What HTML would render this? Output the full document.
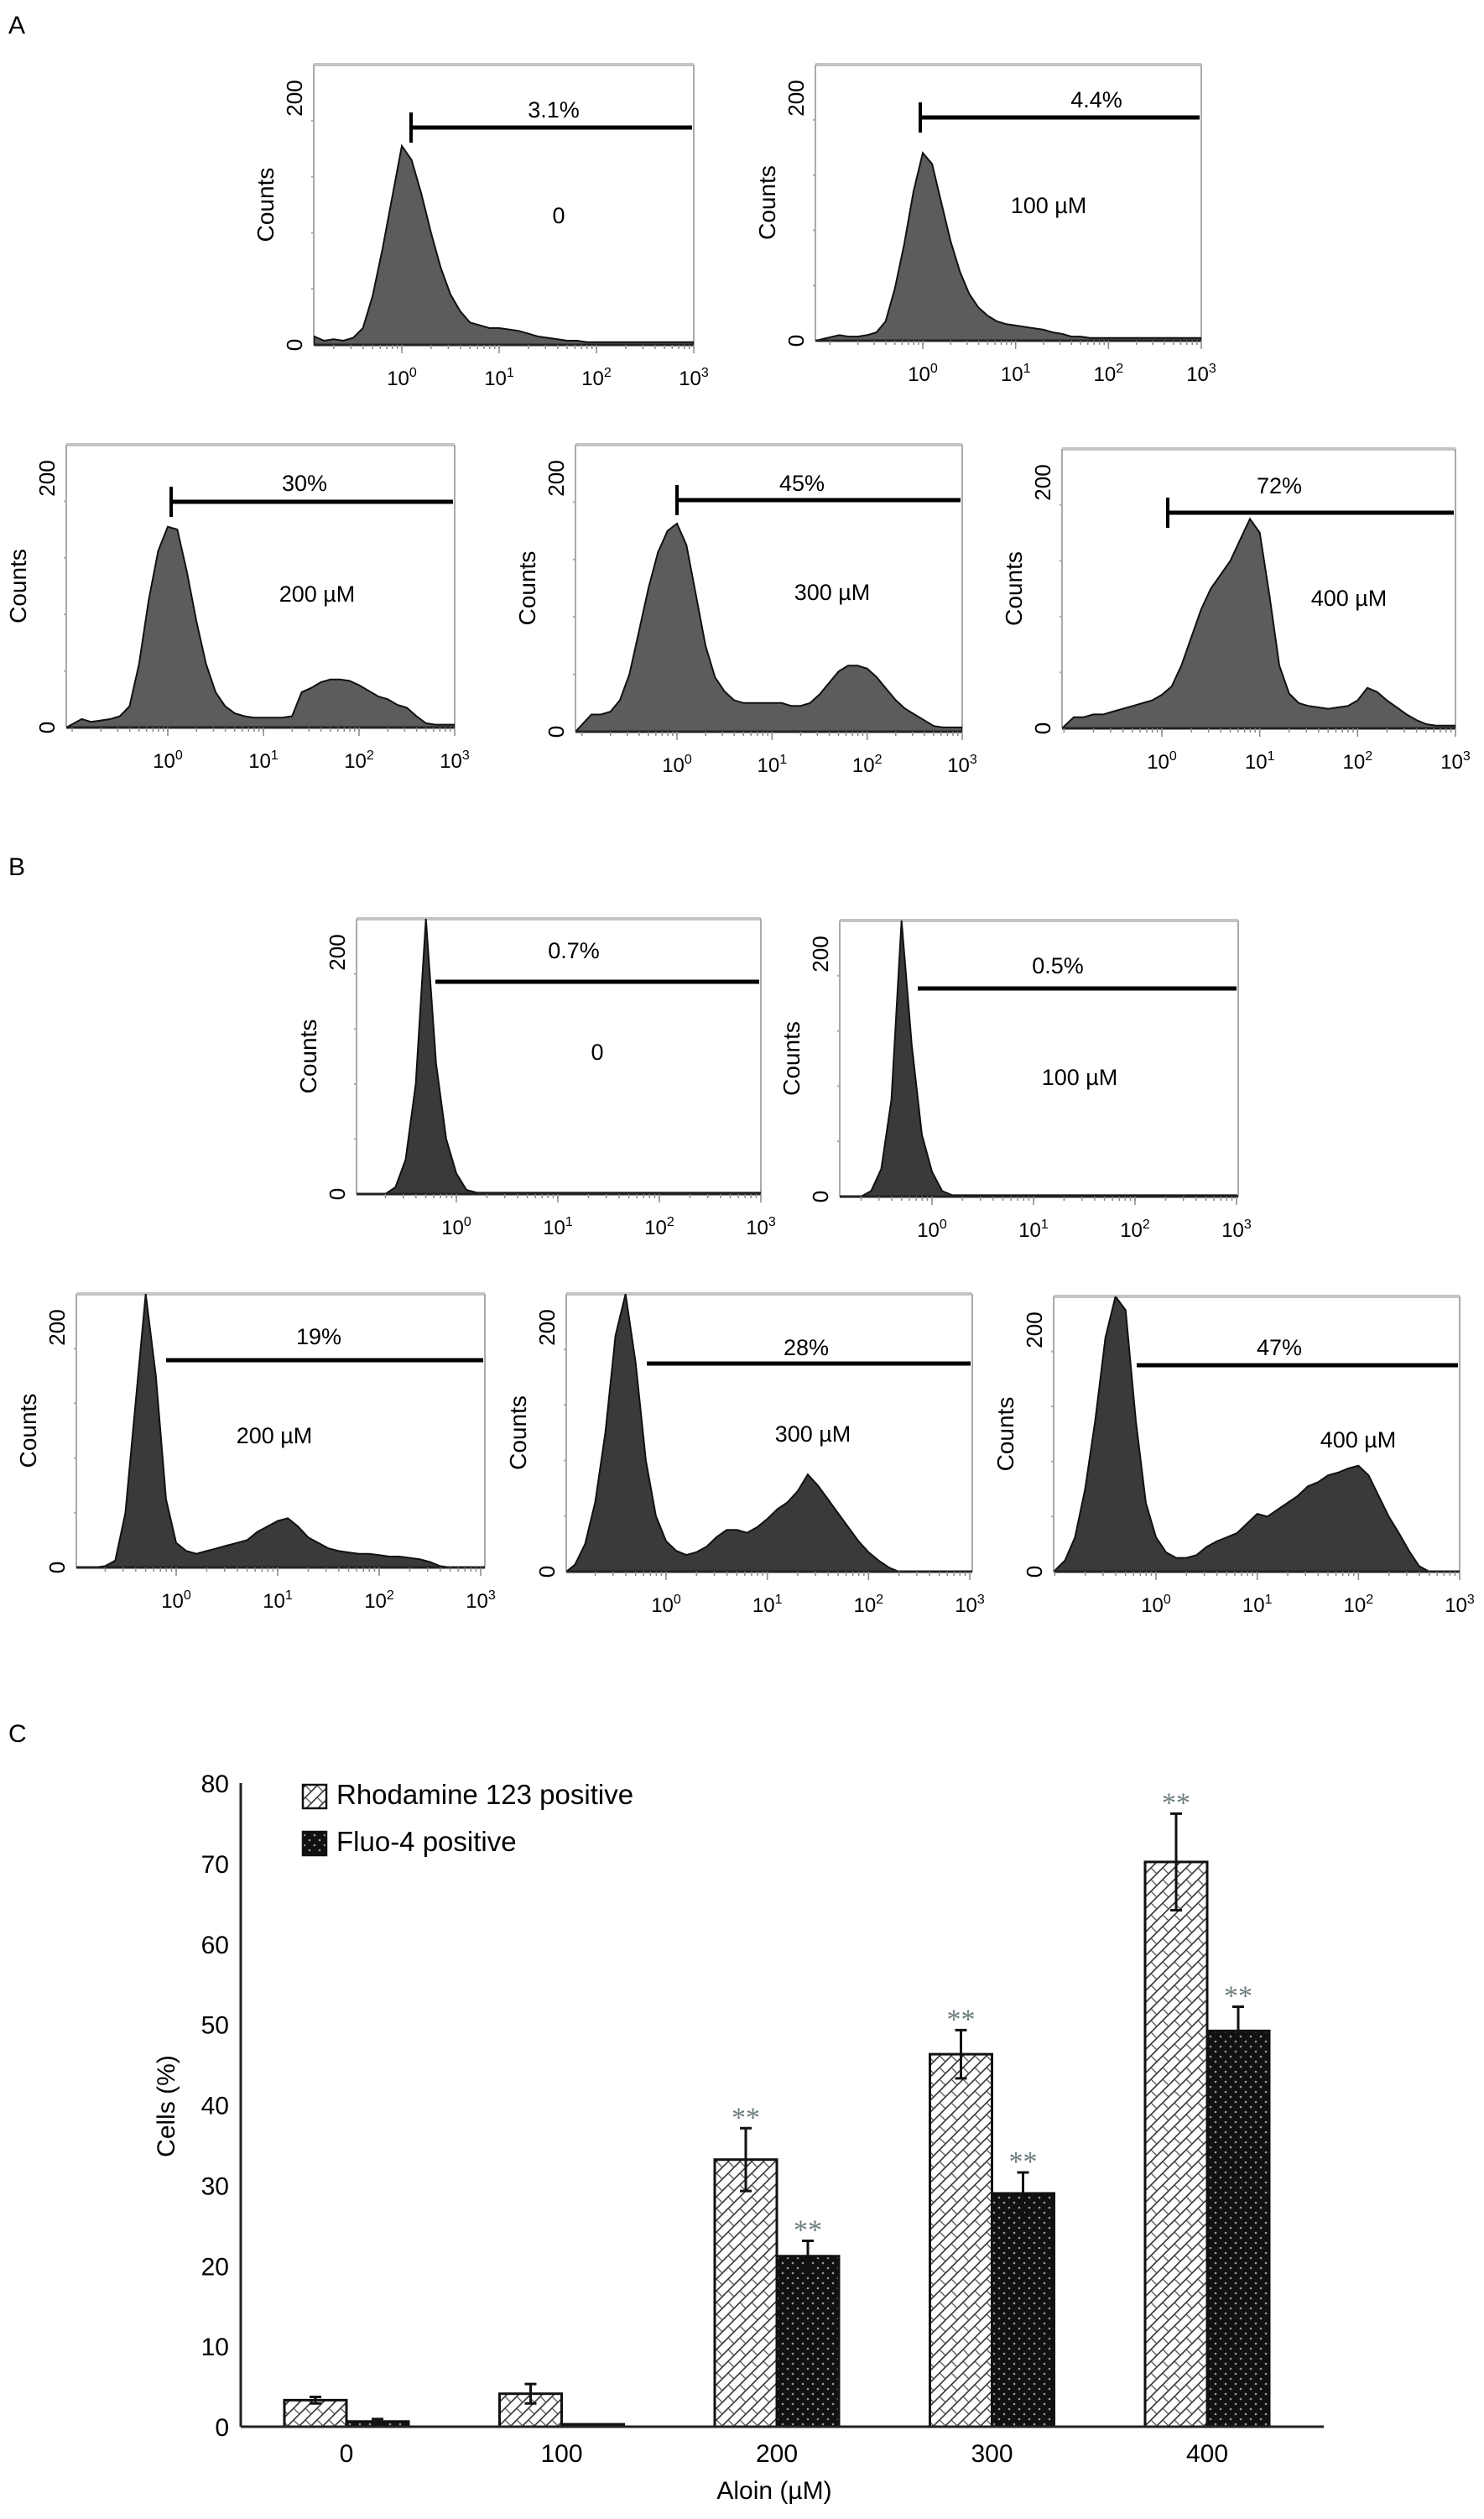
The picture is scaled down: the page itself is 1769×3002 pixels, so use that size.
<!DOCTYPE html>
<html><head><meta charset="utf-8">
<style>
html,body{margin:0;padding:0;background:#fff;}
svg{display:block;font-family:"Liberation Sans",sans-serif;}
</style></head>
<body>
<svg id="fig" width="1769" height="3002" viewBox="0 0 1769 3002" xmlns="http://www.w3.org/2000/svg">
<defs>
<pattern id="hatchR" patternUnits="userSpaceOnUse" width="14" height="14">
<rect width="14" height="14" fill="#fff"/>
<path d="M0,14 L14,0 M-3,3 L3,-3 M11,17 L17,11" stroke="#333" stroke-width="1.6"/>
<path d="M0,0 L7,7" stroke="#555" stroke-width="1.3"/>
</pattern>
<pattern id="dotF" patternUnits="userSpaceOnUse" width="12" height="12">
<rect width="12" height="12" fill="#111"/>
<circle cx="3" cy="3" r="1.3" fill="#999"/>
<circle cx="9" cy="9" r="1.3" fill="#999"/>
</pattern>
</defs>
<text x="10" y="40" font-size="30">A</text>
<text x="10" y="1043" font-size="30">B</text>
<text x="10" y="2076" font-size="30">C</text>
<g id="hists"></g>
<g id="bars"></g>
</svg>
<script>
// ---------- Histogram data ----------
const bins = [-0.9,-0.8,-0.7,-0.6,-0.5,-0.4,-0.3,-0.2,-0.1,0,0.1,0.2,0.3,0.4,0.5,0.6,0.7,0.8,0.9,1,1.1,1.2,1.3,1.4,1.5,1.6,1.7,1.8,1.9,2,2.1,2.2,2.3,2.4,2.5,2.6,2.7,2.8,2.9,3.0];
const countsA0 = [6,3,4,3,5,12,35,68,105,142,132,108,80,55,36,24,16,14,12,12,11,10,8,6,5,4,3,3,2,2,2,2,2,2,2,2,2,2,2,2];
const countsA100 = [4,3,3,4,6,14,38,70,108,136,128,100,72,50,34,24,18,14,12,11,10,9,8,6,5,3,3,2,2,2,2,2,2,2,2,2,2,2,2,2];
const countsA200 = [6,4,5,6,8,15,45,90,125,142,140,110,75,45,25,15,10,8,7,7,7,7,8,25,28,32,34,34,33,30,26,22,20,16,14,8,3,2,2,2];
const countsA300 = [12,12,14,22,40,70,100,125,140,145,130,95,60,38,28,22,20,20,20,20,20,18,18,20,26,34,42,46,46,44,38,30,22,16,12,8,4,3,3,3];
const countsA400 = [8,8,10,10,12,14,16,18,20,24,30,45,65,85,100,110,120,135,150,140,95,45,25,18,16,15,14,15,16,20,29,26,20,15,10,6,3,2,2,2];
const countsB0 = [0,0,0,5,25,80,200,95,40,15,3,1,1,1,1,1,1,1,1,1,1,1,1,1,1,1,1,1,1,1,1,1,1,1,1,1,1,1,1,1];
const countsB100 = [0,0,0,4,20,70,200,110,45,18,4,1,1,1,1,1,1,1,1,1,1,1,1,1,1,1,1,1,1,1,1,1,1,1,1,1,1,1,1,1];
const countsB200 = [0,0,1,5,40,120,200,140,50,18,12,10,12,14,16,18,20,26,30,34,36,30,22,18,14,12,11,10,10,9,8,8,7,6,4,1,0,0,0,0];
const countsB300 = [5,20,50,100,170,200,150,80,40,22,15,12,14,18,25,30,30,28,32,38,45,50,58,70,62,52,42,32,22,14,8,3,0,0,0,0,0,0,0,0];
const countsB400 = [8,25,60,110,170,200,190,110,50,25,14,10,10,12,18,22,25,28,35,42,40,45,50,55,62,65,70,72,75,77,70,55,40,28,15,4,0,0,0,0];
const gateLabels = ["3.1%","4.4%","30%","45%","72%","0.7%","0.5%","19%","28%","47%"];
const doseLabels = ["0","100 \u00b5M","200 \u00b5M","300 \u00b5M","400 \u00b5M","0","100 \u00b5M","200 \u00b5M","300 \u00b5M","400 \u00b5M"];
const decadeLabels = ["0","1","2","3"];

// layout (pixels) per panel
const panels = [
 {id:"a-0",   c:countsA0,   L:374, R:827, T:77,  B:411, x0:479, x3:827, gy:152, gx:490, tick:true, fill:"#5c5c5c", px:660, py:140, dx:666, dy:266},
 {id:"a-100", c:countsA100, L:972, R:1432,T:77,  B:406, x0:1100,x3:1432,gy:140, gx:1097,tick:true, fill:"#5c5c5c", px:1307,py:128, dx:1250,dy:254},
 {id:"a-200", c:countsA200, L:79,  R:542, T:530, B:867, x0:200, x3:542, gy:598, gx:204, tick:true, fill:"#5c5c5c", px:363, py:585, dx:378, dy:717},
 {id:"a-300", c:countsA300, L:686, R:1147,T:530, B:872, x0:807, x3:1147,gy:596, gx:807, tick:true, fill:"#5c5c5c", px:956, py:585, dx:992, dy:715},
 {id:"a-400", c:countsA400, L:1266,R:1735,T:535, B:868, x0:1385,x3:1735,gy:611, gx:1392,tick:true, fill:"#5c5c5c", px:1525,py:588, dx:1608,dy:722},
 {id:"b-0",   c:countsB0,   L:425, R:907, T:1095,B:1423,x0:544, x3:907, gy:1170,gx:519, tick:false,fill:"#3a3a3a", px:684, py:1142,dx:712, dy:1263},
 {id:"b-100", c:countsB100, L:1001,R:1476,T:1097,B:1426,x0:1111,x3:1474,gy:1178,gx:1094,tick:false,fill:"#3a3a3a", px:1261,py:1160,dx:1287,dy:1293},
 {id:"b-200", c:countsB200, L:91,  R:578, T:1542,B:1868,x0:210, x3:573, gy:1621,gx:198, tick:false,fill:"#3a3a3a", px:380, py:1602,dx:327, dy:1720},
 {id:"b-300", c:countsB300, L:675, R:1159,T:1542,B:1873,x0:794, x3:1156,gy:1625,gx:771, tick:false,fill:"#3a3a3a", px:961, py:1615,dx:969, dy:1718},
 {id:"b-400", c:countsB400, L:1256,R:1740,T:1545,B:1873,x0:1378,x3:1740,gy:1627,gx:1355,tick:false,fill:"#3a3a3a", px:1525,py:1615,dx:1619,dy:1725}
];
const NS = "http://www.w3.org/2000/svg";
function mk(tag, attrs, parent){const e=document.createElementNS(NS,tag);for(const k in attrs)e.setAttribute(k,attrs[k]);parent.appendChild(e);return e;}
const hg = document.getElementById("hists");
panels.forEach((p,pi)=>{
  const g = mk("g",{},hg);
  
  
  const xs = v => p.x0 + (p.x3-p.x0)*v/3;
  const ys = c => p.B - (p.B-p.T)*c/200;
  const cid = "clip"+pi;
  const cp = mk("clipPath",{id:cid},g);
  mk("rect",{x:p.L,y:p.T,width:p.R-p.L,height:p.B-p.T},cp);
  const fr = mk("g",{},g);
  mk("line",{x1:p.L,y1:p.T,x2:p.R,y2:p.T,stroke:"#c4c4c4","stroke-width":4},fr);
  mk("line",{x1:p.L,y1:p.T,x2:p.L,y2:p.B,stroke:"#aaa","stroke-width":2},fr);
  mk("line",{x1:p.R,y1:p.T,x2:p.R,y2:p.B,stroke:"#aaa","stroke-width":2},fr);
  for(let c=40;c<200;c+=40){ mk("line",{x1:p.L-3,y1:ys(c),x2:p.L+1,y2:ys(c),stroke:"#aaa","stroke-width":2},fr); }
  let d = "M"+p.L+","+p.B;
  bins.forEach((b,i)=>{ d += " L"+xs(b).toFixed(1)+","+ys(p.c[i]).toFixed(1); });
  d += " L"+p.R+","+p.B+" Z";
  const path = mk("path",{d:d,fill:p.fill,stroke:"#111","stroke-width":2,"clip-path":"url(#"+cid+")"},g);
  
  
  mk("line",{x1:p.L,y1:p.B,x2:p.R,y2:p.B,stroke:"#222","stroke-width":3},g);
  for(let k=-1;k<3;k++){ for(let m=1;m<=10;m++){ const v=k+Math.log10(m); const x=xs(v); if(x<p.L||x>p.R)continue;
    mk("line",{x1:x,y1:p.B,x2:x,y2:p.B+(m===10?10:5),stroke:"#888","stroke-width":1.5},g);} }
  decadeLabels.forEach((lab,i)=>{
    const t = mk("text",{x:xs(i),y:p.B+48,"font-size":24,"text-anchor":"middle"},g);
    
    
    t.textContent = "10";
    const s = mk("tspan",{dy:-10,"font-size":16},t); s.textContent = lab;
  });
  const y200 = mk("text",{transform:"translate("+(p.L-14)+","+(p.T+40)+") rotate(-90)","font-size":26,"text-anchor":"middle"},g);
  
  
  y200.textContent = "200";
  const y0 = mk("text",{transform:"translate("+(p.L-14)+","+p.B+") rotate(-90)","font-size":26,"text-anchor":"middle"},g);
  
  
  y0.textContent = "0";
  const yt = mk("text",{transform:"translate("+(p.L-48)+","+((p.T+p.B)/2)+") rotate(-90)","font-size":28,"text-anchor":"middle"},g);
  
  
  yt.textContent = "Counts";
  const gl = mk("line",{x1:p.gx,y1:p.gy,x2:p.R-2,y2:p.gy,stroke:"#000","stroke-width":5},g);
  
  
  if(p.tick){ mk("line",{x1:p.gx,y1:p.gy-18,x2:p.gx,y2:p.gy+18,stroke:"#000","stroke-width":4},g); }
  const pt = mk("text",{x:p.px,y:p.py,"font-size":27,"text-anchor":"middle"},g);
  
  
  pt.textContent = gateLabels[pi];
  const dt = mk("text",{x:p.dx,y:p.dy,"font-size":27,"text-anchor":"middle"},g);
  
  
  dt.textContent = doseLabels[pi];
});

// ---------- Bar chart data ----------
const categories = ["0","100","200","300","400"];
const rhodamine = [3.3,4.1,33.2,46.3,70.2];
const rhodamineErr = [0.4,1.2,3.9,3.0,6.0];
const fluo = [0.65,0.3,21.2,29.0,49.2];
const fluoErr = [0.3,0,1.9,2.6,3.0];
const sigRhod = [false,false,true,true,true];
const sigFluo = [false,false,true,true,true];
const yTicks = [0,10,20,30,40,50,60,70,80];

const bg = document.getElementById("bars");
const ax = {L:287, R:1578, y0:2892, y80:2125, c0:413, step:256.5, bw:74};
const yb = v => ax.y0 - (ax.y0-ax.y80)*v/80;
const xc = i => ax.c0 + ax.step*i;
const yaxis = mk("line",{x1:ax.L,y1:ax.y80,x2:ax.L,y2:ax.y0,stroke:"#222","stroke-width":3},bg);


yTicks.forEach(v=>{
  const t = mk("text",{x:273,y:yb(v)+11,"font-size":30,"text-anchor":"end"},bg);
  
  
  t.textContent = v;
});
const ytitle = mk("text",{transform:"translate(208,2510) rotate(-90)","font-size":30,"text-anchor":"middle"},bg);


ytitle.textContent = "Cells (%)";
function drawBar(i, v, e, fillId, offset, name, sig){
  const x = xc(i) + offset;
  const r = mk("rect",{x:x,y:yb(v),width:ax.bw,height:ax.y0-yb(v),fill:"url(#"+fillId+")",stroke:"#111","stroke-width":3},bg);
  
  
  const cx = x + ax.bw/2;
  if(e>0){
    const eb = mk("path",{d:"M"+cx+","+yb(v-e)+" L"+cx+","+yb(v+e)+" M"+(cx-7)+","+yb(v+e)+" L"+(cx+7)+","+yb(v+e)+" M"+(cx-7)+","+yb(v-e)+" L"+(cx+7)+","+yb(v-e),stroke:"#111","stroke-width":3,fill:"none"},bg);
    
    
  }
  if(sig){
    const s = mk("text",{x:cx,y:yb(v+e)-2,"font-size":34,"text-anchor":"middle",fill:"#6e7d80","font-family":"Liberation Serif, serif"},bg);
    
    
    s.textContent = "**";
  }
}
categories.forEach((c,i)=>{
  drawBar(i, rhodamine[i], rhodamineErr[i], "hatchR", -ax.bw, "rhodamine", sigRhod[i]);
  drawBar(i, fluo[i], fluoErr[i], "dotF", 0, "fluo", sigFluo[i]);
  const t = mk("text",{x:xc(i),y:2934,"font-size":30,"text-anchor":"middle"},bg);
  
  
  t.textContent = c;
});
const xaxis = mk("line",{x1:ax.L,y1:ax.y0,x2:ax.R,y2:ax.y0,stroke:"#222","stroke-width":3},bg);


const xtitle = mk("text",{x:923,y:2978,"font-size":30,"text-anchor":"middle"},bg);


xtitle.textContent = "Aloin (\u00b5M)";
const lg = mk("g",{},bg);


mk("rect",{x:361,y:2127,width:28,height:28,fill:"url(#hatchR)",stroke:"#111","stroke-width":2.5},lg);
mk("rect",{x:361,y:2183,width:28,height:28,fill:"url(#dotF)",stroke:"#111","stroke-width":2.5},lg);
const l1 = mk("text",{x:401,y:2150,"font-size":33},lg);


l1.textContent = "Rhodamine 123 positive";
const l2 = mk("text",{x:401,y:2206,"font-size":33},lg);


l2.textContent = "Fluo-4 positive";
</script>
</body></html>
